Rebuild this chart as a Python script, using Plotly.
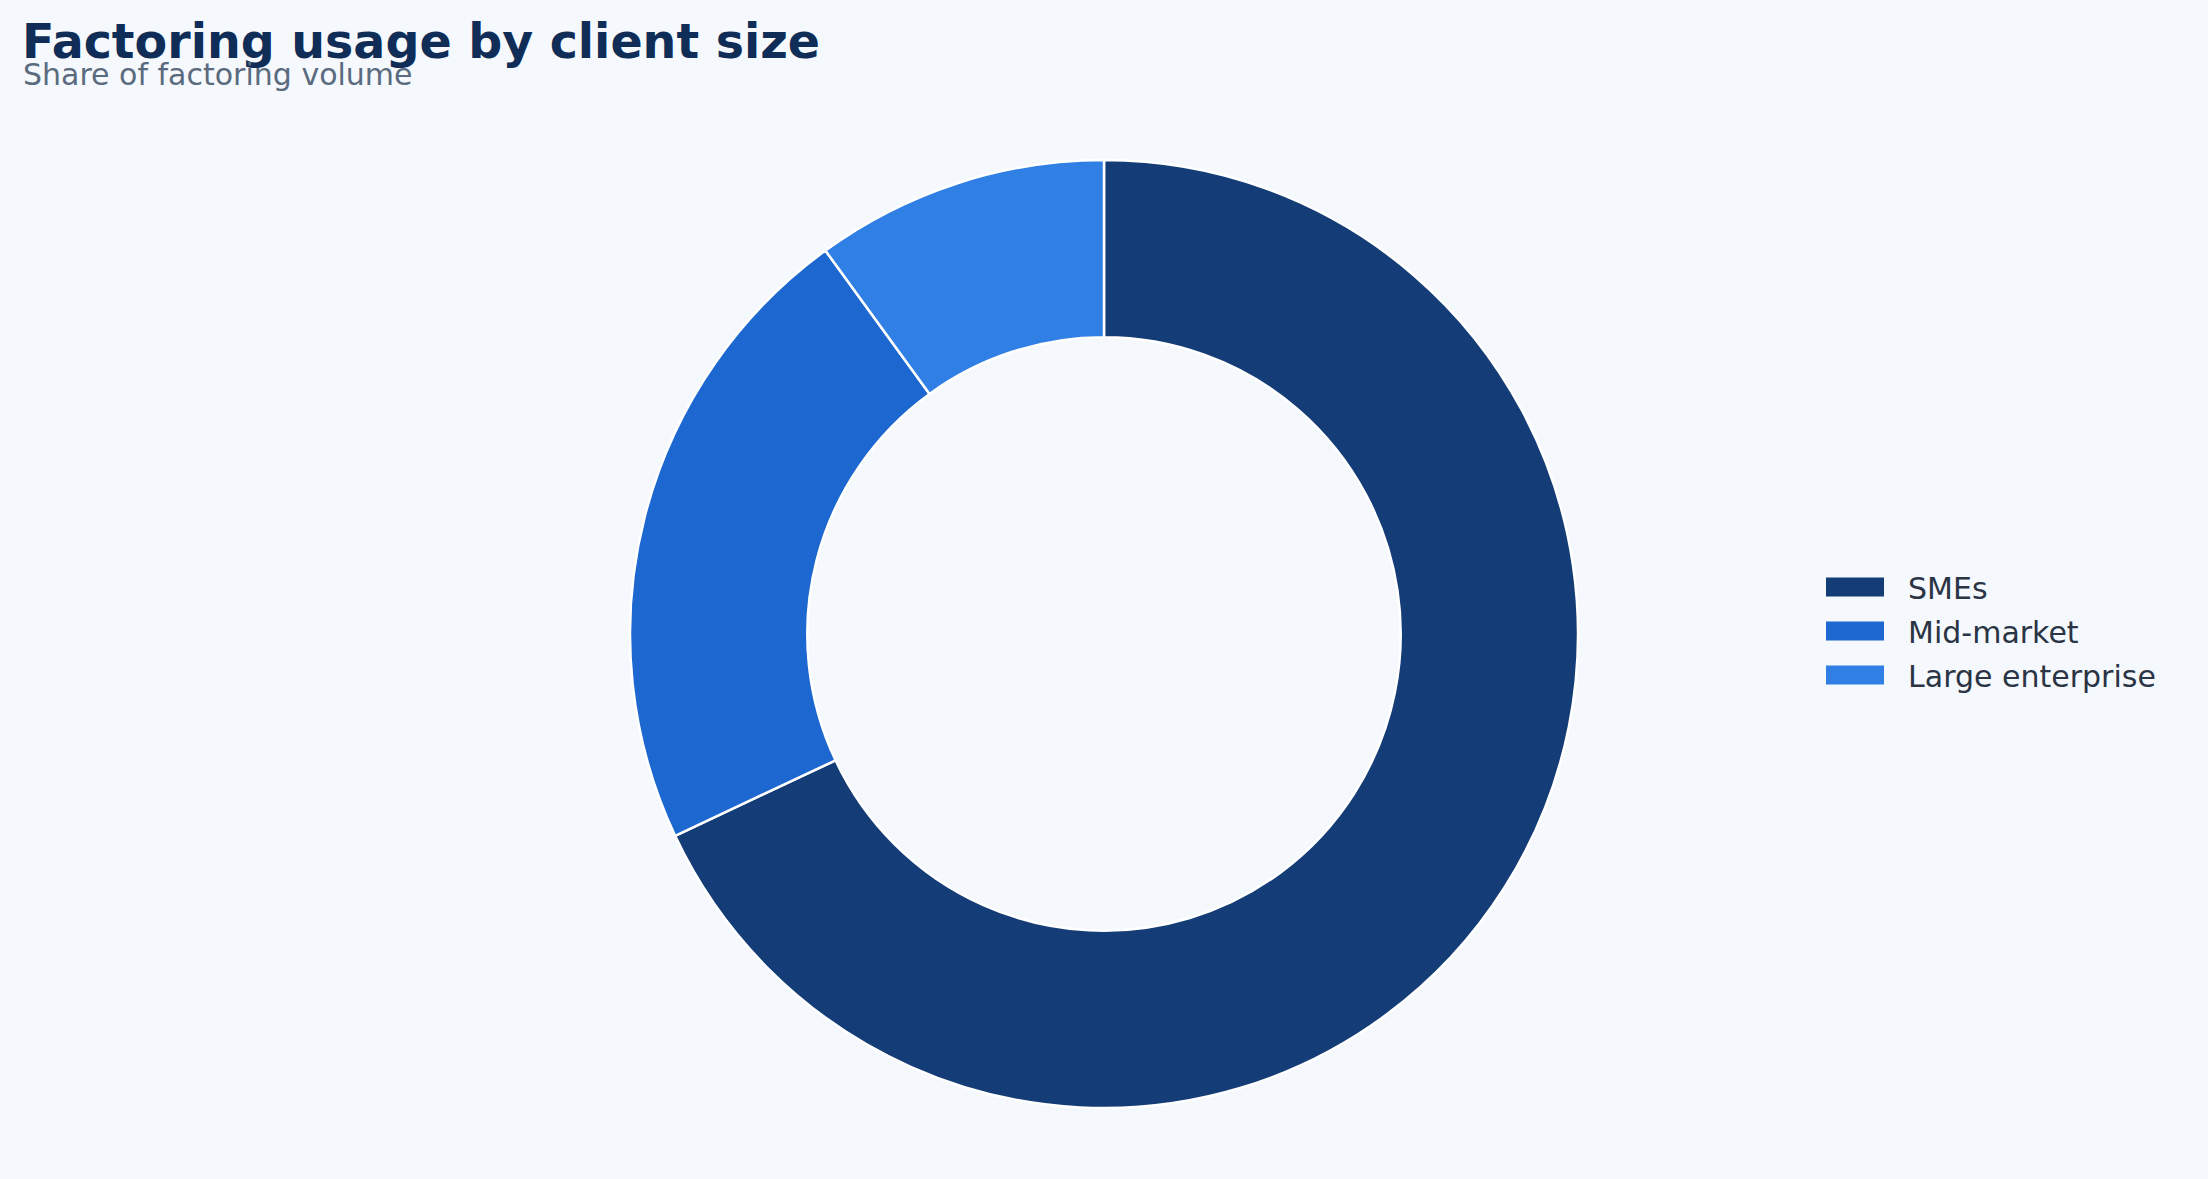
import plotly.graph_objects as go

categories = ["SMEs", "Mid-market", "Large enterprise"]
shares = [68, 22, 10]
colors = ["#143c77", "#1c67d0", "#2f7fe5"]

title_text = "Factoring usage by client size"
subtitle_text = "Share of factoring volume"

W, H = 2208, 1179
ML, MR, MT, MB = 80, 80, 160, 71
BG = "#f5f9fd"
FONT = "DejaVu Sans"
SWATCH_H = 19

fig = go.Figure()
fig.add_trace(go.Pie(
    labels=categories,
    values=shares,
    hole=0.626,
    sort=False,
    direction="clockwise",
    rotation=0,
    textinfo="none",
    marker=dict(colors=colors, line=dict(color="#ffffff", width=2.5)),
    showlegend=False,
))

# legend entries with wide rectangular swatches
for name, col in zip(categories, colors):
    fig.add_trace(go.Scatter(
        x=[None], y=[None], mode="lines", name="\u00a0\u00a0" + name,
        line=dict(color=col, width=SWATCH_H), legendgroup=name, hoverinfo="skip",
    ))

plot_w = W - ML - MR
plot_h = H - MT - MB
fig.update_layout(
    width=W, height=H,
    margin=dict(l=ML, r=MR, t=MT, b=MB, autoexpand=False),
    paper_bgcolor=BG, plot_bgcolor=BG,
    font=dict(family=FONT, color="#2a3444"),
    xaxis=dict(visible=False), yaxis=dict(visible=False),
    title=dict(
        text="<b>" + title_text + "</b>",
        font=dict(family=FONT, size=47.5, color="#0f2d57"),
        xref="container", yref="container",
        x=22 / W, xanchor="left",
        y=1 - 58 / H, yanchor="bottom",
        pad=dict(l=0, r=0, t=0, b=0),
    ),
    annotations=[dict(
        text=subtitle_text,
        xref="paper", yref="paper",
        x=(21 - ML) / plot_w, xanchor="left",
        y=(H - MB - 94) / plot_h, yanchor="bottom",
        showarrow=False,
        font=dict(family=FONT, size=30, color="#5b6b7f"),
    )],
    legend=dict(
        xref="container", yref="container",
        x=(1826 - 5) / W, xanchor="left",
        y=1 - 631 / H, yanchor="middle",
        itemwidth=58,
        tracegroupgap=2,
        font=dict(family=FONT, size=30, color="#2a3444"),
        bgcolor="rgba(0,0,0,0)",
    ),
)

post = (
    "document.body.style.margin='0';"
    "document.querySelectorAll('.legendlines path').forEach(function(p){"
    "p.style.strokeWidth='" + str(SWATCH_H) + "px';});"
)
fig.write_html("out.html", post_script=post, config={"displayModeBar": False})
